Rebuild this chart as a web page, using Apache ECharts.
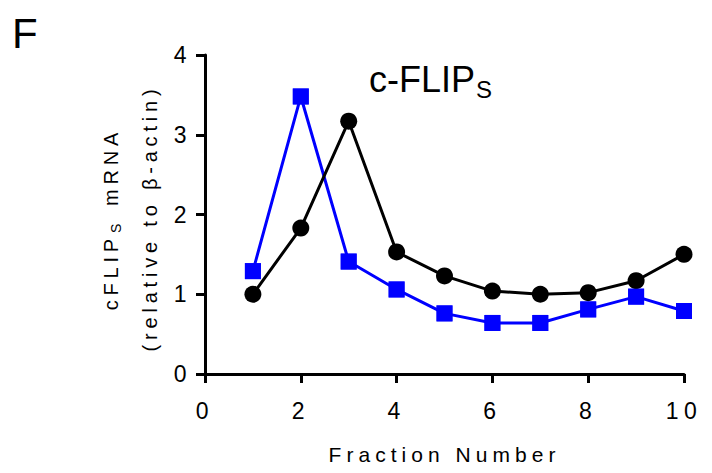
<!DOCTYPE html>
<html>
<head>
<meta charset="utf-8">
<script src="https://cdn.jsdelivr.net/npm/echarts@6/dist/echarts.min.js"></script>
<style>
  html, body { margin: 0; padding: 0; background: #fff; }
  #chart { width: 712px; height: 473px; }
  /* Prism-style tracking for axis text; titles keep normal spacing */
  #chart text { letter-spacing: 0.24em; }
  #chart text[style*="36px"], #chart text[style*="24px"], #chart text[style*="42px"] { letter-spacing: 0; }
</style>
</head>
<body>
<div id="chart"></div>
<script>
// Fraction numbers along the gradient
const fractions = [1, 2, 3, 4, 5, 6, 7, 8, 9, 10];
// cFLIP-S mRNA relative to beta-actin, two conditions
const blackSeries = [1.0, 1.83, 3.17, 1.53, 1.23, 1.04, 1.0, 1.02, 1.17, 1.5];
const blueSeries = [1.29, 3.48, 1.41, 1.06, 0.76, 0.64, 0.64, 0.81, 0.97, 0.79];

const xTicks = [0, 2, 4, 6, 8, 10];
const yTicks = [0, 1, 2, 3, 4];

const toPairs = (vals) => fractions.map((f, i) => [f, vals[i]]);

const chart = echarts.init(document.getElementById('chart'), null, { renderer: 'svg' });

const font = 'Liberation Sans, Arial, Helvetica, sans-serif';

const axisCommon = {
  type: 'value',
  splitLine: { show: false },
  axisLine: { show: true, onZero: false, lineStyle: { color: '#000', width: 3 } },
  axisTick: { show: true, length: 9, lineStyle: { color: '#000', width: 3 } },
  axisLabel: { color: '#000', fontSize: 23, fontFamily: font }
};

chart.setOption({
  animation: false,
  backgroundColor: '#fff',
  grid: { left: 205, right: 28, top: 55, bottom: 99, containLabel: false, outerBoundsMode: 'none' },
  xAxis: Object.assign({}, axisCommon, {
    min: xTicks[0], max: xTicks[xTicks.length - 1], interval: 2,
    axisLabel: Object.assign({}, axisCommon.axisLabel, { margin: 25 }),
    name: 'Fraction Number',
    nameLocation: 'middle',
    nameGap: 70,
    nameTextStyle: { color: '#000', fontSize: 21, fontFamily: font }
  }),
  yAxis: Object.assign({}, axisCommon, {
    min: yTicks[0], max: yTicks[yTicks.length - 1], interval: 1,
    axisLabel: Object.assign({}, axisCommon.axisLabel, { margin: 13 })
  }),
  graphic: [
    { type: 'text', left: 12, top: 12, style: { text: 'F', font: '42px ' + font, fill: '#000' } },
    // panel title with subscript
    { type: 'text', x: 369, y: 79, style: { text: 'c-FLIP', font: '36px ' + font, fill: '#000', textAlign: 'left', textVerticalAlign: 'middle' } },
    { type: 'text', x: 476, y: 89, style: { text: 'S', font: '24px ' + font, fill: '#000', textAlign: 'left', textVerticalAlign: 'middle' } },
    // rotated y-axis title, two lines
    {
      type: 'group', x: 111, y: 221, rotation: Math.PI / 2,
      children: [
        { type: 'text', x: -13, y: 0, style: { text: 'cFLIP', font: '20px ' + font, fill: '#000', textAlign: 'right', textVerticalAlign: 'middle' } },
        { type: 'text', x: -12, y: 5, style: { text: 'S', font: '14px ' + font, fill: '#000', textAlign: 'left', textVerticalAlign: 'middle' } },
        { type: 'text', x: 15, y: 0, style: { text: 'mRNA', font: '20px ' + font, fill: '#000', textAlign: 'left', textVerticalAlign: 'middle' } }
      ]
    },
    {
      type: 'text', x: 150, y: 218, rotation: Math.PI / 2,
      style: { text: '(relative to β-actin)', font: '20px ' + font, fill: '#000', textAlign: 'center', textVerticalAlign: 'middle' }
    }
  ],
  series: [
    {
      type: 'line', data: toPairs(blueSeries), z: 2,
      symbol: 'rect', symbolSize: 16, showSymbol: true,
      lineStyle: { color: '#0000ff', width: 3 },
      itemStyle: { color: '#0000ff' }
    },
    {
      type: 'line', data: toPairs(blackSeries), z: 3,
      symbol: 'circle', symbolSize: 17, showSymbol: true,
      lineStyle: { color: '#000', width: 3 },
      itemStyle: { color: '#000' }
    },
    {
      // square markers sit above the black circles
      type: 'scatter', data: toPairs(blueSeries), z: 4,
      symbol: 'rect', symbolSize: 16,
      itemStyle: { color: '#0000ff' }
    }
  ]
});
</script>
</body>
</html>
